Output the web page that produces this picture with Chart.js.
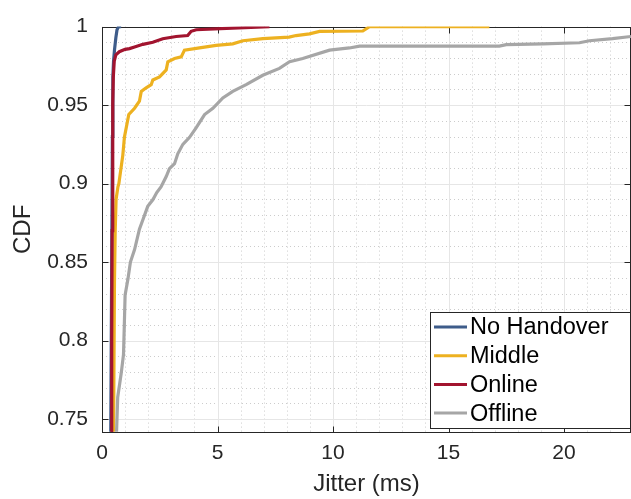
<!DOCTYPE html>
<html>
<head>
<meta charset="utf-8">
<script src="https://cdn.jsdelivr.net/npm/chart.js@4"></script>
<style>
  html, body { margin: 0; padding: 0; background: #fff; }
  #wrap { width: 631px; height: 499px; }
</style>
</head>
<body>
<div id="wrap"><canvas id="chart" width="631" height="499"></canvas></div>
<script>
// series (jitter in ms, CDF)
const seriesNames = ['No Handover', 'Middle', 'Online', 'Offline'];
const seriesColors = ['#3e5c8a', '#edb120', '#a2142f', '#a6a6a6'];

const noHandoverX = [0.38, 0.42, 0.45, 0.47, 0.50, 0.54, 0.60, 0.65, 0.72, 0.83];
const noHandoverY = [0.742, 0.85, 0.93, 0.968, 0.978, 0.985, 0.993, 0.998, 1.0, 1.0];

const middleX = [0.50, 0.54, 0.57, 0.61, 0.69, 0.73, 0.90, 0.97, 1.16, 1.41, 1.62, 1.70, 1.91, 2.13, 2.20, 2.49, 2.78, 2.85, 3.14, 3.43, 3.57, 4.22, 4.94, 5.66, 6.10, 6.96, 8.10, 8.40, 8.98, 9.42, 11.29, 11.58, 16.77];
const middleY = [0.742, 0.837, 0.869, 0.890, 0.898, 0.900, 0.918, 0.9296, 0.944, 0.948, 0.9525, 0.9587, 0.961, 0.963, 0.966, 0.968, 0.9724, 0.9776, 0.9797, 0.9807, 0.985, 0.9864, 0.988, 0.989, 0.991, 0.9923, 0.9933, 0.9943, 0.9954, 0.9969, 0.9972, 1.0, 1.0];

const onlineX = [0.40, 0.42, 0.44, 0.46, 0.47, 0.49, 0.53, 0.60, 0.75, 1.00, 1.19, 1.41, 1.77, 2.20, 2.63, 3.21, 3.71, 3.86, 4.08, 5.65, 7.25];
const onlineY = [0.742, 0.80, 0.87, 0.93, 0.951, 0.968, 0.978, 0.982, 0.984, 0.9855, 0.986, 0.987, 0.9887, 0.990, 0.9923, 0.9937, 0.9943, 0.997, 0.998, 0.999, 1.0];

const offlineX = [0.63, 0.68, 0.83, 0.93, 0.97, 1.00, 1.12, 1.23, 1.41, 1.62, 1.77, 1.98, 2.20, 2.37, 2.56, 2.78, 2.92, 3.14, 3.28, 3.50, 3.79, 4.08, 4.44, 4.80, 5.23, 5.66, 6.24, 6.96, 7.68, 8.12, 8.69, 9.85, 10.71, 11.15, 17.20, 17.50, 19.08, 20.67, 21.10, 22.10, 22.90];
const offlineY = [0.742, 0.764, 0.779, 0.791, 0.812, 0.829, 0.839, 0.850, 0.858, 0.871, 0.877, 0.8855, 0.8897, 0.8943, 0.898, 0.9045, 0.9095, 0.9127, 0.919, 0.925, 0.9295, 0.9357, 0.944, 0.948, 0.9546, 0.9587, 0.963, 0.969, 0.9734, 0.9776, 0.9797, 0.985, 0.9864, 0.9876, 0.9876, 0.9885, 0.989, 0.9897, 0.991, 0.9923, 0.9937];

const xTicks = [0, 5, 10, 15, 20];
const yTicks = [0.75, 0.8, 0.85, 0.9, 0.95, 1];
const xRange = [0, 22.9];
const yRange = [0.7418, 1];

const FONT = "'Liberation Sans', Arial, Helvetica, sans-serif";

function toPoints(xs, ys) {
    return xs.map((x, i) => ({ x: x, y: ys[i] }));
}

const seriesData = [
    toPoints(noHandoverX, noHandoverY),
    toPoints(middleX, middleY),
    toPoints(onlineX, onlineY),
    toPoints(offlineX, offlineY)
];

// grid, box and inward ticks, matlab style
const frame = {
    id: 'frame',
    beforeDatasetsDraw(chart) {
        const { ctx, chartArea: a, scales: { x, y } } = chart;
        ctx.save();
        ctx.lineWidth = 1;

        ctx.strokeStyle = '#cccccc';
        ctx.setLineDash([1, 3]);
        for (let v = 1; v < xRange[1]; v++) {
            if (v % 5 === 0) continue;
            const px = Math.round(x.getPixelForValue(v)) + 0.5;
            ctx.beginPath(); ctx.moveTo(px, a.top); ctx.lineTo(px, a.bottom); ctx.stroke();
        }
        for (let k = 75; k < 100; k++) {
            if (k % 5 === 0) continue;
            const py = Math.round(y.getPixelForValue(k / 100)) + 0.5;
            ctx.beginPath(); ctx.moveTo(a.left, py); ctx.lineTo(a.right, py); ctx.stroke();
        }

        ctx.setLineDash([]);
        ctx.strokeStyle = '#e6e6e6';
        xTicks.forEach(v => {
            const px = Math.round(x.getPixelForValue(v)) + 0.5;
            ctx.beginPath(); ctx.moveTo(px, a.top); ctx.lineTo(px, a.bottom); ctx.stroke();
        });
        yTicks.forEach(v => {
            const py = Math.round(y.getPixelForValue(v)) + 0.5;
            ctx.beginPath(); ctx.moveTo(a.left, py); ctx.lineTo(a.right, py); ctx.stroke();
        });

        ctx.strokeStyle = '#262626';
        const L = Math.round(a.left) + 0.5, R = Math.round(a.right) - 0.5;
        const T = Math.round(a.top) + 0.5, B = Math.round(a.bottom) + 0.5;
        ctx.strokeRect(L, T, R - L, B - T);
        const tl = 6;
        xTicks.forEach(v => {
            const px = Math.round(x.getPixelForValue(v)) + 0.5;
            ctx.beginPath(); ctx.moveTo(px, B); ctx.lineTo(px, B - tl); ctx.stroke();
            ctx.beginPath(); ctx.moveTo(px, T); ctx.lineTo(px, T + tl); ctx.stroke();
        });
        yTicks.forEach(v => {
            const py = Math.round(y.getPixelForValue(v)) + 0.5;
            ctx.beginPath(); ctx.moveTo(L, py); ctx.lineTo(L + tl, py); ctx.stroke();
            ctx.beginPath(); ctx.moveTo(R, py); ctx.lineTo(R - tl, py); ctx.stroke();
        });
        ctx.restore();
    }
};

// legend box in the lower right corner
const legendBox = {
    id: 'legendBox',
    afterDraw(chart) {
        const ctx = chart.ctx;
        const left = 430.5, top = 312.5, right = 630.5, bottom = 428.5;
        ctx.save();
        ctx.fillStyle = '#fff';
        ctx.fillRect(left, top, right - left, bottom - top);
        ctx.strokeStyle = '#262626';
        ctx.lineWidth = 1;
        ctx.strokeRect(left, top, right - left, bottom - top);
        ctx.font = '23.5px ' + FONT;
        ctx.textBaseline = 'middle';
        ctx.fillStyle = '#000';
        seriesNames.forEach((name, i) => {
            const cy = 327 + i * 28.7;
            ctx.strokeStyle = seriesColors[i];
            ctx.lineWidth = 3;
            ctx.beginPath(); ctx.moveTo(434, cy); ctx.lineTo(467, cy); ctx.stroke();
            ctx.fillText(name, 470, cy + 1);
        });
        ctx.restore();
    }
};

const ctx = document.getElementById('chart').getContext('2d');

const chart = new Chart(ctx, {
    type: 'line',
    data: {
        datasets: seriesNames.map((name, i) => ({
            label: name,
            data: seriesData[i],
            borderColor: seriesColors[i],
            backgroundColor: seriesColors[i],
            borderWidth: 3.2,
            pointRadius: 0,
            tension: 0,
            fill: false,
            order: 4 - i
        }))
    },
    options: {
        responsive: false,
        animation: false,
        devicePixelRatio: 1,
        layout: { padding: { top: 21, right: 0, left: 0, bottom: 0 } },
        plugins: {
            legend: { display: false },
            tooltip: { enabled: false }
        },
        scales: {
            x: {
                type: 'linear',
                min: xRange[0],
                max: xRange[1],
                afterBuildTicks: (scale) => { scale.ticks = xTicks.map(v => ({ value: v })); },
                afterFit: (scale) => { scale.height = 67; },
                grid: { display: false, drawTicks: false, tickLength: 0 },
                border: { display: false },
                ticks: {
                    padding: 9,
                    color: '#262626',
                    font: { family: FONT, size: 21 },
                    maxRotation: 0,
                    autoSkip: false,
                    callback: (v) => String(v)
                },
                title: {
                    display: true,
                    text: 'Jitter (ms)',
                    color: '#262626',
                    font: { family: FONT, size: 24 },
                    padding: { top: 0, bottom: 0 }
                }
            },
            y: {
                type: 'linear',
                min: yRange[0],
                max: yRange[1],
                afterBuildTicks: (scale) => { scale.ticks = yTicks.map(v => ({ value: v })); },
                afterFit: (scale) => { scale.width = 102; },
                grid: { display: false, drawTicks: false, tickLength: 0 },
                border: { display: false },
                ticks: {
                    padding: 14,
                    color: '#262626',
                    font: { family: FONT, size: 21 },
                    autoSkip: false,
                    callback: (v) => String(Number(v.toFixed(2)))
                },
                title: {
                    display: true,
                    text: 'CDF',
                    color: '#262626',
                    font: { family: FONT, size: 24 },
                    padding: { top: 9, bottom: 0 }
                }
            }
        }
    },
    plugins: [frame, legendBox]
});
</script>
</body>
</html>
